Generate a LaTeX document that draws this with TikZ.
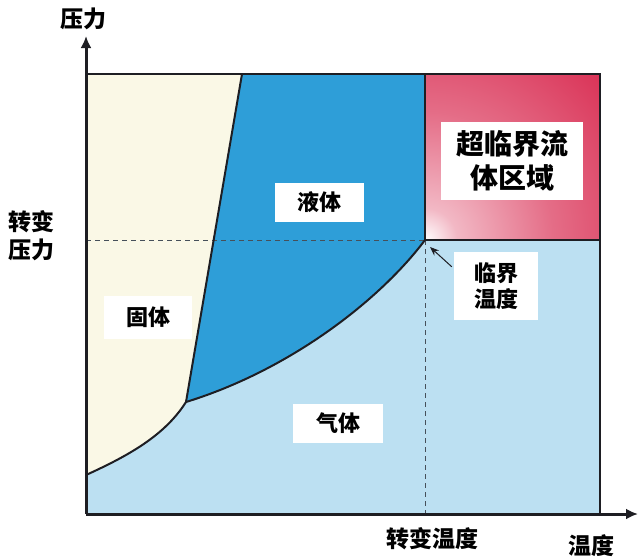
\documentclass[tikz,border=0pt]{standalone}
\usepackage{fontspec}
\setmainfont{Noto Sans CJK SC}
\usetikzlibrary{arrows.meta}
\definecolor{solidc}{RGB}{250,248,230}
\definecolor{liquidc}{RGB}{46,158,216}
\definecolor{gasc}{RGB}{188,224,242}
\definecolor{scred}{RGB}{218,52,88}
\definecolor{linec}{RGB}{30,30,35}
\definecolor{dashc}{RGB}{70,80,90}
\pgfdeclareradialshading{scshade}{\pgfpoint{0bp}{0bp}}{color(0bp)=(white); color(2bp)=(scred!35!white); color(8bp)=(scred!72!white); color(15bp)=(scred); color(50bp)=(scred)}
\tikzset{
  bnd/.style={draw=linec, line width=2pt, line join=round},
  frameline/.style={draw=linec, line width=2.6pt, line join=miter},
  axisline/.style={draw=linec, line width=3pt},
  guide/.style={draw=dashc, line width=1pt, dash pattern=on 5pt off 4pt},
  lab/.style={fill=white, inner sep=0pt, font=\bfseries\fontsize{22}{26}\selectfont, align=center},
  axlab/.style={inner sep=0pt, font=\bfseries\fontsize{23}{28}\selectfont, align=center},
  pointer/.style={draw=linec, line width=1pt, -{Stealth[length=9pt,width=7pt]}}
}
\begin{document}
\begin{tikzpicture}[x=1pt,y=-1pt]
\useasboundingbox (0,0) rectangle (640,557);
\coordinate (O) at (86,514);
\coordinate (TL) at (86,74);
\coordinate (TR) at (600,74);
\coordinate (BR) at (600,514);
\coordinate (SL) at (242,74);
\coordinate (TP) at (186,402);
\coordinate (CP) at (425,240);
\coordinate (CPA) at (430,247);
\coordinate (SG) at (86,475);
\coordinate (CT) at (425,74);
\coordinate (CR) at (600,240);
\coordinate (PY) at (86,240);
\coordinate (YT) at (86,36);
\coordinate (XT) at (638,514);
% regions
\fill[gasc] (O) rectangle (TR);
\fill[solidc] (TL) -- (SL) -- (TP) .. controls (165,435) and (130,455) .. (SG) -- cycle;
\fill[liquidc] (SL) -- (CT) -- (CP) .. controls (380,300) and (290,370) .. (TP) -- cycle;
\begin{scope}
  \clip (CT) rectangle (CR);
  \shade[shading=scshade] (CP) circle (400);
\end{scope}
% guides
\draw[guide] (PY) -- (CP);
\draw[guide] (CP) -- (CP |- O);
% boundaries
\draw[bnd] (SL) -- (TP);
\draw[bnd] (SG) .. controls (130,455) and (165,435) .. (TP) .. controls (290,370) and (380,300) .. (CP);
\draw[bnd] (CT) -- (CP) -- (CR);
\draw[frameline] (TL) -- (TR) -- (BR);
% axes
\draw[axisline, -{Latex[length=12pt,width=11pt]}] (O) -- (YT);
\draw[axisline, -{Latex[length=12pt,width=11pt]}] (O) -- (XT);
% labels
\node[lab, minimum width=89pt, minimum height=39pt] (liq) at (319,202) {液体};
\node[lab, minimum width=88pt, minimum height=43pt] (sol) at (148,317) {固体};
\node[lab, minimum width=90pt, minimum height=39pt] (gas) at (338,423) {气体};
\node[lab, minimum width=142pt, minimum height=78pt, font=\bfseries\fontsize{28}{34}\selectfont] (sc) at (512,161) {超临界流\\体区域};
\node[lab, minimum width=84pt, minimum height=68pt] (ct) at (496,286) {临界\\温度};
\coordinate (ptstart) at ([xshift=-2pt,yshift=-15pt]ct.north west);
\draw[pointer] (ptstart) -- (CPA);
\node[axlab] (py) at (83,19) {压力};
\node[axlab] (tp) at (32,236) {转变\\压力};
\node[axlab] (tt) at (432,539) {转变温度};
\node[axlab] (tx) at (591,546) {温度};
\end{tikzpicture}
\end{document}
